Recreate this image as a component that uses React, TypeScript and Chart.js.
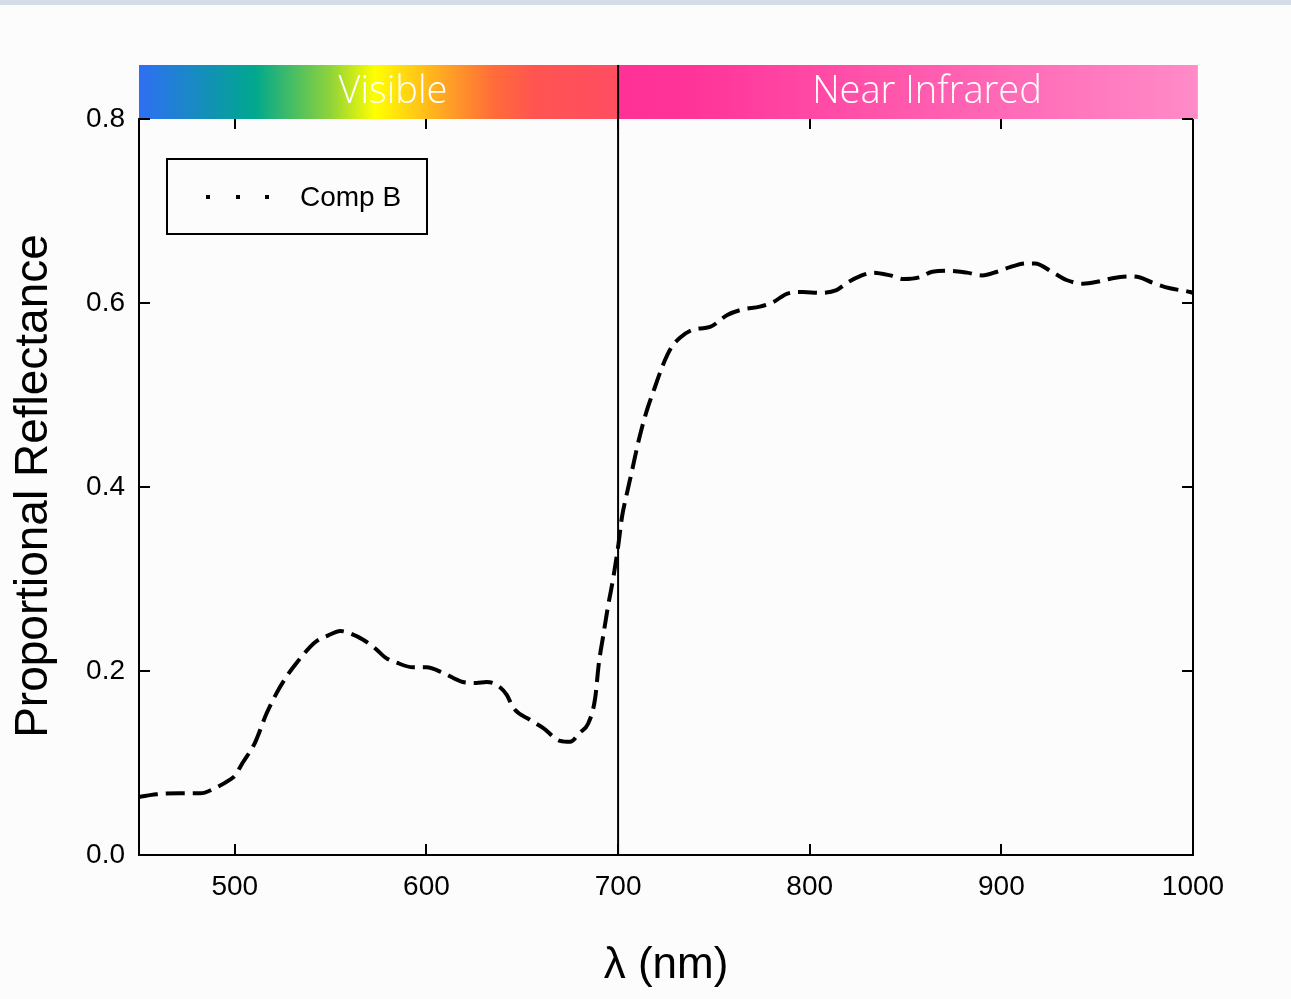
import React, { useEffect, useRef } from "react";
import { Chart, registerables } from "chart.js";

Chart.register(...registerables);

const wavelengths = [
  450, 459, 471, 482, 489, 497.5, 500, 504, 510.5, 516.6, 521.8, 527, 532.3, 539.2, 543, 549, 555, 560, 567,
  573, 579, 584.5, 593, 600, 608.7, 619, 626, 631.4, 636.6, 641.9, 645.3, 654, 661, 669.7, 675, 680,
  684.4, 688, 690, 692.3, 694.7, 697.3, 700, 702, 704.6, 707.3, 709.9, 712.5, 715.6, 719.3, 722.9,
  727.6, 732.8, 739, 748, 757, 765, 774, 781, 788, 796.5, 805, 814, 819.5, 826, 833, 842, 849, 857.5,
  864, 873, 882, 890, 897.7, 904.5, 913, 917.5, 927, 934, 942.6, 950, 958, 967, 972, 979, 988, 998.5, 1000,
];

const reflectance = [
  0.063, 0.066, 0.067, 0.067, 0.072, 0.082, 0.086, 0.1, 0.122, 0.154, 0.176, 0.194, 0.209, 0.226, 0.233, 0.239, 0.2435, 0.241, 0.234,
  0.225, 0.214, 0.209, 0.204, 0.204, 0.198, 0.188, 0.187, 0.188, 0.185, 0.174, 0.16, 0.147, 0.138, 0.124, 0.123, 0.133,
  0.143, 0.17, 0.209, 0.239, 0.27, 0.299, 0.335, 0.367, 0.393, 0.418, 0.443, 0.465, 0.487, 0.509, 0.53,
  0.551, 0.563, 0.571, 0.574, 0.587, 0.593, 0.596, 0.601, 0.61, 0.612, 0.611, 0.614, 0.622, 0.629, 0.633, 0.63, 0.626, 0.628,
  0.634, 0.635, 0.633, 0.63, 0.634, 0.639, 0.643, 0.643, 0.633, 0.625, 0.621, 0.623, 0.627, 0.629, 0.628, 0.622, 0.616, 0.612, 0.611,
];

const xTickValues = [500, 600, 700, 800, 900, 1000];
const yTickValues = [0, 0.2, 0.4, 0.6, 0.8];
const seriesLabel = "Comp B";
const xTitle = "λ (nm)";
const yTitle = "Proportional Reflectance";
const bandLabels = ["Visible", "Near Infrared"];
const bandEdges = [450, 700, 1002];

const FONT = '"Liberation Sans", Arial, sans-serif';

const decorPlugin = {
  id: "decor",
  beforeDraw(chart: any) {
    const { ctx, width, height } = chart;
    ctx.save();
    ctx.fillStyle = "#fcfcfc";
    ctx.fillRect(0, 0, width, height);
    ctx.fillStyle = "#d5dce6";
    ctx.fillRect(0, 0, width, 5);
    ctx.restore();
  },
  afterDraw(chart: any) {
    const { ctx, chartArea } = chart;
    const xs = chart.scales.x;
    const ys = chart.scales.y;
    const top = chartArea.top;
    const bottom = chartArea.bottom;
    const left = chartArea.left;
    const right = chartArea.right;
    const barTop = 65;
    ctx.save();

    // spectral bands
    const x0 = xs.getPixelForValue(bandEdges[0]);
    const x1 = xs.getPixelForValue(bandEdges[1]);
    const x2 = xs.getPixelForValue(bandEdges[2]) + 1;
    const g1 = ctx.createLinearGradient(x0, 0, x1, 0);
    g1.addColorStop(0, "#2e6ff3");
    g1.addColorStop(0.242, "#00a88e");
    g1.addColorStop(0.4, "#8fd33a");
    g1.addColorStop(0.493, "#ffff00");
    g1.addColorStop(0.639, "#ffa424");
    g1.addColorStop(0.741, "#ff6c3a");
    g1.addColorStop(0.827, "#ff5452");
    g1.addColorStop(1, "#ff4d62");
    ctx.fillStyle = g1;
    ctx.fillRect(x0, barTop, x1 - x0, top - barTop);
    const g2 = ctx.createLinearGradient(x1, 0, x2, 0);
    g2.addColorStop(0, "#ff3196");
    g2.addColorStop(0.12, "#ff3399");
    g2.addColorStop(1, "#ff8bc8");
    ctx.fillStyle = g2;
    ctx.fillRect(x1, barTop, x2 - x1, top - barTop);

    ctx.fillStyle = "#ffffff";
    ctx.font = '300 38px "Open Sans", sans-serif';
    ctx.textAlign = "center";
    ctx.textBaseline = "middle";
    ctx.fillText(bandLabels[0], 393, 92);
    ctx.fillText(bandLabels[1], 927, 92);

    // frame pieces
    ctx.strokeStyle = "#000";
    ctx.lineWidth = 2;
    ctx.beginPath();
    ctx.moveTo(x1, barTop);
    ctx.lineTo(x1, bottom);
    ctx.moveTo(right, top);
    ctx.lineTo(right, bottom + 1);
    ctx.stroke();

    // inward ticks
    ctx.beginPath();
    xTickValues.forEach((v) => {
      const px = Math.round(xs.getPixelForValue(v));
      ctx.moveTo(px, bottom);
      ctx.lineTo(px, bottom - 11);
      ctx.moveTo(px, top);
      ctx.lineTo(px, top + 10);
    });
    yTickValues.forEach((v) => {
      const py = Math.round(ys.getPixelForValue(v));
      ctx.moveTo(left, py);
      ctx.lineTo(left + 11, py);
      ctx.moveTo(right, py);
      ctx.lineTo(right - 11, py);
    });
    ctx.stroke();

    // legend
    ctx.lineWidth = 2;
    ctx.strokeRect(167, 159, 260, 75);
    ctx.fillStyle = "#000";
    [208, 238, 267].forEach((dx) => ctx.fillRect(dx - 2, 195, 4, 4));
    ctx.font = `28px ${FONT}`;
    ctx.textAlign = "left";
    ctx.textBaseline = "middle";
    ctx.fillText(seriesLabel, 300, 198);

    // axis titles
    ctx.font = `44px ${FONT}`;
    ctx.textAlign = "center";
    ctx.fillText(xTitle, 666, 966);
    ctx.translate(34, 486);
    ctx.rotate(-Math.PI / 2);
    ctx.font = `46px ${FONT}`;
    ctx.fillText(yTitle, 0, 0);
    ctx.restore();
  },
};

export default function App() {
  const ref = useRef<HTMLCanvasElement>(null);
  useEffect(() => {
    if (!ref.current) return;
    const chart = new Chart(ref.current, {
      type: "line",
      data: {
        datasets: [
          {
            label: seriesLabel,
            data: wavelengths.map((x, i) => ({ x, y: reflectance[i] })),
            borderColor: "#000",
            borderWidth: 4,
            borderDash: [19, 8],
            pointRadius: 0,
            tension: 0.4,
            cubicInterpolationMode: "monotone",
            fill: false,
          },
        ],
      },
      options: {
        responsive: false,
        animation: false,
        layout: { padding: { top: 119, right: 98, left: 0, bottom: 0 } },
        plugins: { legend: { display: false }, tooltip: { enabled: false } },
        scales: {
          x: {
            type: "linear",
            min: 450,
            max: 1000,
            afterBuildTicks: (s: any) => {
              s.ticks = xTickValues.map((value) => ({ value }));
            },
            afterFit: (s: any) => {
              s.height = 144;
            },
            ticks: {
              color: "#000",
              font: { family: FONT, size: 28 },
              padding: 15,
              maxRotation: 0,
              autoSkip: false,
              callback: (v: any) => String(v),
            },
            grid: { drawOnChartArea: false, drawTicks: false },
            border: { display: true, color: "#000", width: 2 },
          },
          y: {
            type: "linear",
            min: 0,
            max: 0.8,
            afterBuildTicks: (s: any) => {
              s.ticks = yTickValues.map((value) => ({ value }));
            },
            afterFit: (s: any) => {
              s.width = 139;
            },
            ticks: {
              color: "#000",
              font: { family: FONT, size: 28 },
              padding: 14,
              callback: (v: any) => Number(v).toFixed(1),
            },
            grid: { drawOnChartArea: false, drawTicks: false },
            border: { display: true, color: "#000", width: 2 },
          },
        },
      },
      plugins: [decorPlugin],
    } as any);
    return () => chart.destroy();
  }, []);
  return (
    <div style={{ position: "fixed", left: 0, top: 0, width: 1291, height: 999 }}>
      <canvas ref={ref} width={1291} height={999} style={{ display: "block" }} />
    </div>
  );
}
